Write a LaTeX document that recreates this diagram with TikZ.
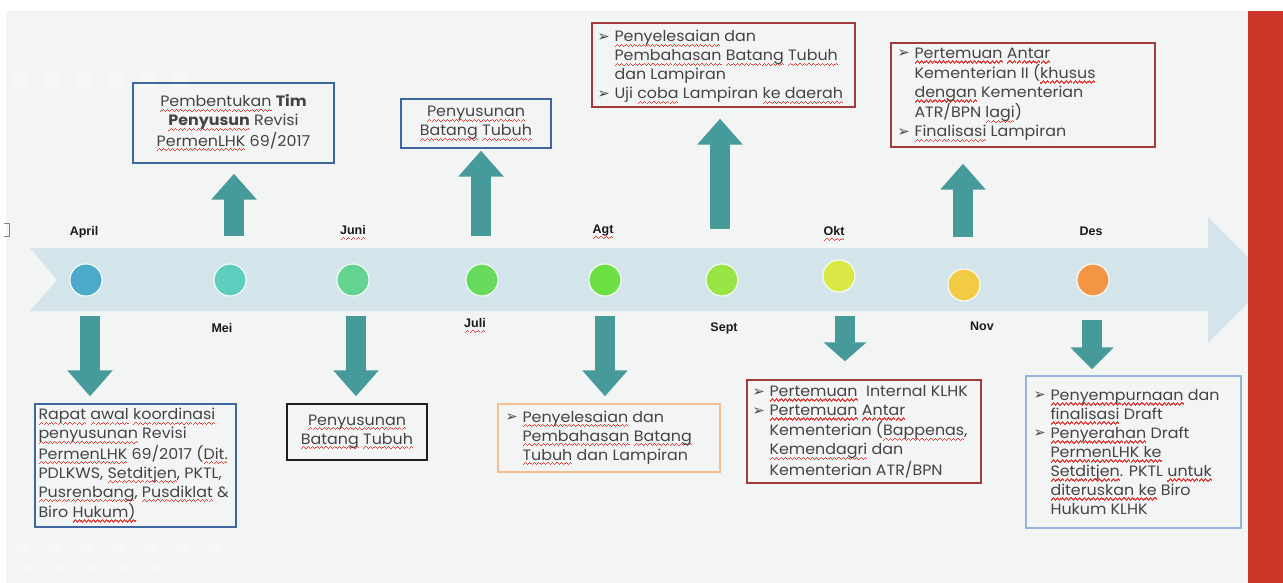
\documentclass[tikz,border=0pt]{standalone}
\usepackage{fontspec}
\setmainfont{Poppins}[FakeStretch=1.06]
\newfontfamily\monthfont{Liberation Sans}
\newfontfamily\symfont{DejaVu Sans}
\usetikzlibrary{arrows.meta}

\definecolor{slidebg}{HTML}{F3F4F4}
\definecolor{redbar}{HTML}{CC3527}
\definecolor{bandblue}{HTML}{D3E5EB}
\definecolor{arrowteal}{HTML}{469A99}
\definecolor{bodytext}{HTML}{444444}
\definecolor{monthtext}{HTML}{1A1A1A}
\definecolor{splred}{HTML}{E8403A}
\definecolor{boxblue}{HTML}{3E66A0}
\definecolor{boxblack}{HTML}{1E1E1E}
\definecolor{boxorange}{HTML}{F6BE8E}
\definecolor{boxred}{HTML}{A33A3C}
\definecolor{boxlight}{HTML}{92B4DE}
\definecolor{capr}{HTML}{4BAAC8}
\definecolor{cmei}{HTML}{5ECFBE}
\definecolor{cjun}{HTML}{63D490}
\definecolor{cjul}{HTML}{67DA5E}
\definecolor{cagt}{HTML}{6BE043}
\definecolor{csep}{HTML}{98E445}
\definecolor{cokt}{HTML}{D9E845}
\definecolor{cnov}{HTML}{F2CB45}
\definecolor{cdes}{HTML}{F29545}

% one period of the stepped squiggle
\newcommand\wavecell{\hbox{\rule[-5.2pt]{1.1pt}{1.3pt}\rule[-4.2pt]{1.1pt}{1.3pt}\rule[-3.2pt]{1.1pt}{1.3pt}\rule[-4.2pt]{1.1pt}{1.3pt}}}
% wavy red underline for flagged words
\newcommand\spl[1]{\begingroup\setbox0\hbox{#1}%
  \rlap{\color{splred}\hbox to\wd0{\xleaders\wavecell\hfil}}\box0\endgroup}
% list bullet and the matching hanging indent
\newcommand\bul{\makebox[17pt][l]{\raisebox{0.5pt}{\symfont\fontsize{14.5}{14.5}\selectfont ➢}}}
\newcommand\ind{\hspace*{17pt}}

\begin{document}
\begin{tikzpicture}[x=1pt,y=-1pt,
  dot/.style={circle,minimum size=32pt,inner sep=0pt,draw=white,line width=1pt},
  month/.style={font=\monthfont\bfseries\fontsize{12.5}{14}\selectfont,text=monthtext,inner sep=0pt},
  frame/.style={draw=#1,line width=1.4pt,inner sep=0pt},
  txt/.style={font=\fontsize{15}{19}\selectfont,text=bodytext,align=left,inner sep=0pt,anchor=west},
  cbox/.style={draw=#1,line width=1.4pt,inner sep=0pt,font=\fontsize{15}{19}\selectfont,text=bodytext,align=center},
  blockarrow/.style={draw=arrowteal,line width=20pt,-{Triangle[length=26pt,width=44pt]}}
]
\useasboundingbox (0,0) rectangle (1283,583);

% slide background
\fill[white] (0,0) rectangle (1283,583);
\fill[slidebg] (6,11) rectangle (1248,583);
\foreach \x in {20,52,84,116,148,180}
  \fill[white,opacity=0.45] (\x,80) circle (9);
\foreach \x in {22,54,86,118,150,182,214}
  \fill[white,opacity=0.4] (\x,548) ellipse (8 and 5);
\foreach \x in {30,62,94,126,158}
  \fill[white,opacity=0.35] (\x,568) ellipse (7 and 4);
\draw[gray,line width=0.8pt] (4,223) -- (9,223) -- (9,236) -- (4,236);

% timeline band
\fill[bandblue] (30,248) -- (1208,248) -- (1208,217) -- (1271,280) -- (1208,343)
  -- (1208,311) -- (30,311) -- (57,280) -- cycle;

% month markers
\node[dot,fill=capr] (apr) at (86,280) {};
\node[dot,fill=cmei] (mei) at (230,280) {};
\node[dot,fill=cjun] (jun) at (353,280) {};
\node[dot,fill=cjul] (jul) at (482,280) {};
\node[dot,fill=cagt] (agt) at (605,280) {};
\node[dot,fill=csep] (sep) at (722,280) {};
\node[dot,fill=cokt] (okt) at (839,276) {};
\node[dot,fill=cnov] (nov) at (964,285) {};
\node[dot,fill=cdes] (des) at (1093,280) {};

\node[month] (lapr) at (84,232) {April};
\node[month] (lmei) at (222,328) {Mei};
\node[month] (ljun) at (353,233) {\spl{Juni}};
\node[month] (ljul) at (475,326) {\spl{Juli}};
\node[month] (lagt) at (603,232) {\spl{Agt}};
\node[month] (lsep) at (724,328) {Sept};
\node[month] (lokt) at (834,234) {\spl{Okt}};
\node[month] (lnov) at (982,326) {Nov};
\node[month] (ldes) at (1091,231) {Des};

% boxes
\node[frame=boxblue,minimum width=201pt,minimum height=123pt] (aprbox) at (135.5,465.5) {};
\node[txt] (aprtxt) at ([xshift=4pt]aprbox.west) {%
  \spl{Rapat} \spl{awal} \spl{koordinasi}\\
  \spl{penyusunan} Revisi\\
  \spl{PermenLHK} 69/2017 (\spl{Dit.}\\
  PDLKWS, \spl{Setditjen}, PKTL,\\
  \spl{Pusrenbang}, \spl{Pusdiklat} \&\\
  Biro \spl{Hukum)}};

\node[cbox=boxblue,minimum width=201pt,minimum height=80pt] (meibox) at (233.5,123) {%
  \spl{Pembentukan} \textbf{Tim}\\
  \textbf{\spl{Penyusun}} Revisi\\
  \spl{PermenLHK} 69/2017};

\node[cbox=boxblack,minimum width=140pt,minimum height=56pt] (junbox) at (357,432) {%
  \spl{Penyusunan}\\
  \spl{Batang} \spl{Tubuh}};

\node[cbox=boxblue,minimum width=150pt,minimum height=49pt] (julbox) at (476,123.5) {%
  \spl{Penyusunan}\\
  \spl{Batang} \spl{Tubuh}};

\node[frame=boxorange,minimum width=222pt,minimum height=68pt] (agtbox) at (609,438) {};
\node[txt] (agttxt) at ([xshift=8pt]agtbox.west) {%
  \bul\spl{Penyelesaian} dan\\
  \ind\spl{Pembahasan} \spl{Batang}\\
  \ind\spl{Tubuh} dan Lampiran};

\node[frame=boxred,minimum width=263pt,minimum height=84pt] (sepbox) at (723.5,65) {};
\node[txt] (septxt) at ([xshift=6pt,yshift=-2pt]sepbox.west) {%
  \bul\spl{Penyelesaian} dan\\
  \ind\spl{Pembahasan} \spl{Batang} \spl{Tubuh}\\
  \ind dan Lampiran\\
  \bul Uji \spl{coba} Lampiran \spl{ke daerah}};

\node[frame=boxred,minimum width=234pt,minimum height=103pt] (oktbox) at (864,431.5) {};
\node[txt] (okttxt) at ([xshift=6pt]oktbox.west) {%
  \bul\spl{Pertemuan}\ \ Internal KLHK\\
  \bul\spl{Pertemuan} \spl{Antar}\\
  \ind Kementerian (\spl{Bappenas},\\
  \ind\spl{Kemendagri} dan\\
  \ind Kementerian ATR/BPN};

\node[frame=boxred,minimum width=264pt,minimum height=104pt] (novbox) at (1023,95) {};
\node[txt] (novtxt) at ([xshift=7pt]novbox.west) {%
  \bul\spl{Pertemuan} \spl{Antar}\\
  \ind Kementerian II (\spl{khusus}\\
  \ind\spl{dengan} Kementerian\\
  \ind ATR/BPN \spl{lagi})\\
  \bul\spl{Finalisasi} Lampiran};

\node[frame=boxlight,minimum width=215pt,minimum height=152pt] (desbox) at (1133.5,452) {};
\node[txt] (destxt) at ([xshift=8pt]desbox.west) {%
  \bul\spl{Penyempurnaan} dan\\
  \ind\spl{finalisasi} Draft\\
  \bul\spl{Penyerahan} Draft\\
  \ind\spl{PermenLHK ke}\\
  \ind\spl{Setditjen}. PKTL \spl{untuk}\\
  \ind\spl{diteruskan ke} Biro\\
  \ind Hukum KLHK};

% block arrows from the band to each box
\coordinate (a1) at (90,316);
\coordinate (a2) at (234,236);
\coordinate (a3) at (356,316);
\coordinate (a4) at (481,236);
\coordinate (a5) at (605,316);
\coordinate (a6) at (720,229);
\coordinate (a7) at (845,316);
\coordinate (a8) at (963,237);
\coordinate (a9) at (1092,320);
\draw[blockarrow,shorten >=7pt] (a1) -- (a1 |- aprbox.north);
\draw[blockarrow,shorten >=10pt] (a2) -- (a2 |- meibox.south);
\draw[blockarrow,shorten >=7pt] (a3) -- (a3 |- junbox.north);
\draw[blockarrow,shorten >=2pt] (a4) -- (a4 |- julbox.south);
\draw[blockarrow,shorten >=7pt] (a5) -- (a5 |- agtbox.north);
\draw[blockarrow,shorten >=11pt] (a6) -- (a6 |- sepbox.south);
\draw[blockarrow,shorten >=18pt,-{Triangle[length=19pt,width=42pt]}] (a7) -- (a7 |- oktbox.north);
\draw[blockarrow,shorten >=16pt] (a8) -- (a8 |- novbox.south);
\draw[blockarrow,shorten >=6pt,-{Triangle[length=22pt,width=42pt]}] (a9) -- (a9 |- desbox.north);

% side bar
\fill[redbar] (1248,11) rectangle (1283,583);
\end{tikzpicture}
\end{document}
